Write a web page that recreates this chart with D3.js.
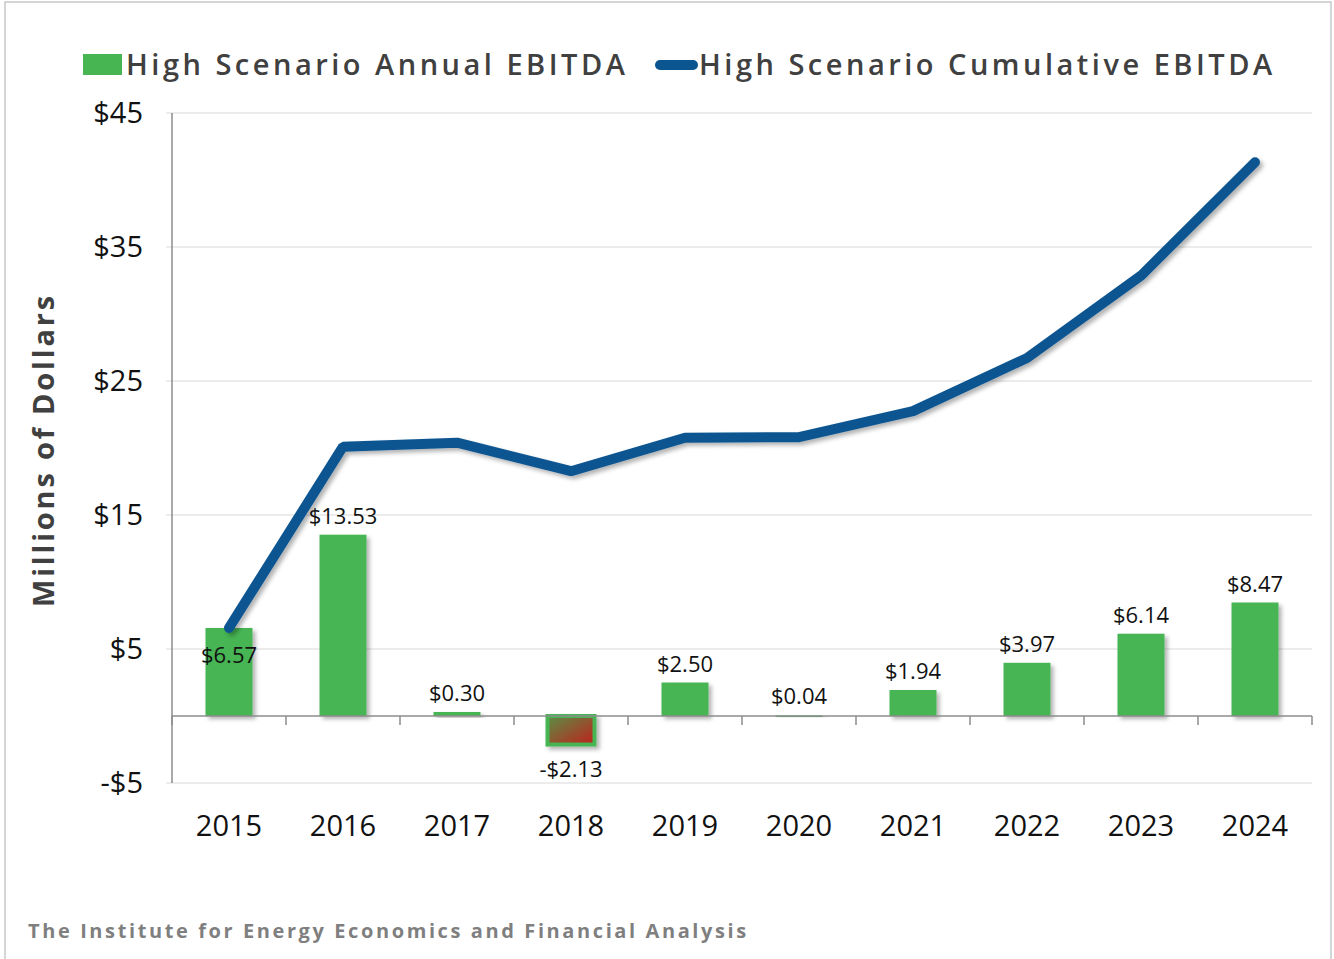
<!DOCTYPE html>
<html>
<head>
<meta charset="utf-8">
<script src="https://cdn.jsdelivr.net/npm/d3@7"></script>
<style>
  body { margin: 0; background: #fff; }
  svg text { font-family: "Open Sans", "Noto Sans", sans-serif; }
</style>
</head>
<body>
<div id="c1"></div>
<script>
// Data
var years = ["2015", "2016", "2017", "2018", "2019", "2020", "2021", "2022", "2023", "2024"];
var annual = [6.57, 13.53, 0.30, -2.13, 2.50, 0.04, 1.94, 3.97, 6.14, 8.47];
var cumulative = [6.57, 20.10, 20.40, 18.27, 20.77, 20.81, 22.75, 26.72, 32.86, 41.33];
var yTicks = [-5, 5, 15, 25, 35, 45];
var labels = ["$6.57", "$13.53", "$0.30", "-$2.13", "$2.50", "$0.04", "$1.94", "$3.97", "$6.14", "$8.47"];

var w = 1334, h = 959;
var plotLeft = 172, plotRight = 1312, plotTop = 113, plotBottom = 783;

function draw() {
    var svg = d3.select("#c1").append("svg")
        .attr("width", w)
        .attr("height", h);

    var defs = svg.append("defs");
    var sh = defs.append("filter").attr("id", "shadow")
        .attr("x", "-20%").attr("y", "-20%").attr("width", "150%").attr("height", "150%");
    sh.append("feDropShadow").attr("dx", 3).attr("dy", 3).attr("stdDeviation", 2)
        .attr("flood-color", "#000").attr("flood-opacity", 0.3);

    var grad = defs.append("linearGradient").attr("id", "neg")
        .attr("x1", "0%").attr("y1", "0%").attr("x2", "100%").attr("y2", "100%");
    grad.append("stop").attr("offset", "0%").attr("stop-color", "#5a8f45");
    grad.append("stop").attr("offset", "100%").attr("stop-color", "#c0201c");

    // outer frame
    svg.append("rect")
        .attr("x", 5).attr("y", 2).attr("width", 1326).attr("height", 980)
        .attr("fill", "none").attr("stroke", "#c8c8c8").attr("stroke-width", 1.5);

    var x = d3.scaleBand().domain(years).range([plotLeft, plotRight]);
    var y = d3.scaleLinear().domain([-5, 45]).range([plotBottom, plotTop]);

    // gridlines
    svg.selectAll("line.grid")
        .data(yTicks)
        .enter().append("line")
        .attr("x1", plotLeft - 6).attr("x2", plotRight)
        .attr("y1", function (d) { return y(d); })
        .attr("y2", function (d) { return y(d); })
        .attr("stroke", "#d9d9d9")
        .attr("stroke-width", 1.2);

    // y axis line
    svg.append("line")
        .attr("x1", plotLeft).attr("x2", plotLeft)
        .attr("y1", plotTop).attr("y2", plotBottom)
        .attr("stroke", "#8c8c8c").attr("stroke-width", 1.5);

    // y tick labels
    svg.selectAll("text.ytick")
        .data(yTicks)
        .enter().append("text")
        .attr("x", 143)
        .attr("y", function (d) { return y(d) + 10; })
        .attr("text-anchor", "end")
        .attr("font-size", 29)
        .attr("fill", "#111")
        .text(function (d) { return d < 0 ? "-$" + (-d) : "$" + d; });

    // bars
    svg.selectAll("rect.bar")
        .data(annual)
        .enter().append("rect")
        .attr("x", function (d, i) { return x(years[i]) + x.bandwidth() / 2 - 23.5; })
        .attr("width", 47)
        .attr("y", function (d) { return y(Math.max(0, d)); })
        .attr("height", function (d) { return Math.max(1.5, Math.abs(y(d) - y(0))); })
        .attr("fill", function (d) { return d < 0 ? "url(#neg)" : "#46b552"; })
        .attr("stroke", function (d) { return d < 0 ? "#46b552" : "none"; })
        .attr("stroke-width", 4)
        .attr("filter", "url(#shadow)");

    // zero axis with ticks
    svg.append("line")
        .attr("x1", plotLeft).attr("x2", plotRight)
        .attr("y1", y(0)).attr("y2", y(0))
        .attr("stroke", "#8c8c8c").attr("stroke-width", 1.5);
    var bounds = years.map(function (d) { return x(d); }).concat([plotRight]);
    svg.selectAll("line.xtick")
        .data(bounds)
        .enter().append("line")
        .attr("x1", function (d) { return d; })
        .attr("x2", function (d) { return d; })
        .attr("y1", y(0)).attr("y2", y(0) + 9)
        .attr("stroke", "#8c8c8c").attr("stroke-width", 1.5);

    // year labels
    svg.selectAll("text.year")
        .data(years)
        .enter().append("text")
        .attr("x", function (d) { return x(d) + x.bandwidth() / 2; })
        .attr("y", 836)
        .attr("text-anchor", "middle")
        .attr("font-size", 29)
        .attr("fill", "#111")
        .text(function (d) { return d; });

    // cumulative line
    var line = d3.line()
        .x(function (d, i) { return x(years[i]) + x.bandwidth() / 2; })
        .y(function (d) { return y(d); });
    svg.append("path")
        .datum(cumulative)
        .attr("d", line)
        .attr("fill", "none")
        .attr("stroke", "#0b5591")
        .attr("stroke-width", 10)
        .attr("stroke-linecap", "round")
        .attr("stroke-linejoin", "bevel")
        .attr("filter", "url(#shadow)");

    // data labels
    svg.selectAll("text.lab")
        .data(annual)
        .enter().append("text")
        .attr("x", function (d, i) { return x(years[i]) + x.bandwidth() / 2; })
        .attr("y", function (d, i) {
            if (i == 0) return y(d) + 35;
            if (d < 0) return y(d) + 32;
            return y(d) - 11;
        })
        .attr("text-anchor", "middle")
        .attr("font-size", 22)
        .attr("fill", "#111")
        .text(function (d, i) { return labels[i]; });

    // y axis title
    svg.append("text")
        .attr("transform", "translate(54,450) rotate(-90)")
        .attr("text-anchor", "middle")
        .attr("font-size", 29)
        .attr("font-weight", "bold")
        .attr("letter-spacing", 2.8)
        .attr("fill", "#404040")
        .text("Millions of Dollars");

    // legend
    svg.append("rect")
        .attr("x", 83).attr("y", 54).attr("width", 39).attr("height", 21)
        .attr("fill", "#46b552");
    svg.append("text")
        .attr("x", 126).attr("y", 75)
        .attr("font-size", 29).attr("font-weight", 600)
        .attr("letter-spacing", 3.5)
        .attr("fill", "#404040")
        .text("High Scenario Annual EBITDA");
    svg.append("line")
        .attr("x1", 660).attr("x2", 693).attr("y1", 65).attr("y2", 65)
        .attr("stroke", "#0b5591").attr("stroke-width", 10)
        .attr("stroke-linecap", "round");
    svg.append("text")
        .attr("x", 699).attr("y", 75)
        .attr("font-size", 29).attr("font-weight", 600)
        .attr("letter-spacing", 3.5)
        .attr("fill", "#404040")
        .text("High Scenario Cumulative EBITDA");

    // footer
    svg.append("text")
        .attr("x", 28).attr("y", 938)
        .attr("font-size", 20).attr("font-weight", "bold")
        .attr("letter-spacing", 2.6)
        .attr("fill", "#7f7f7f")
        .text("The Institute for Energy Economics and Financial Analysis");
}

draw();
</script>
</body>
</html>
